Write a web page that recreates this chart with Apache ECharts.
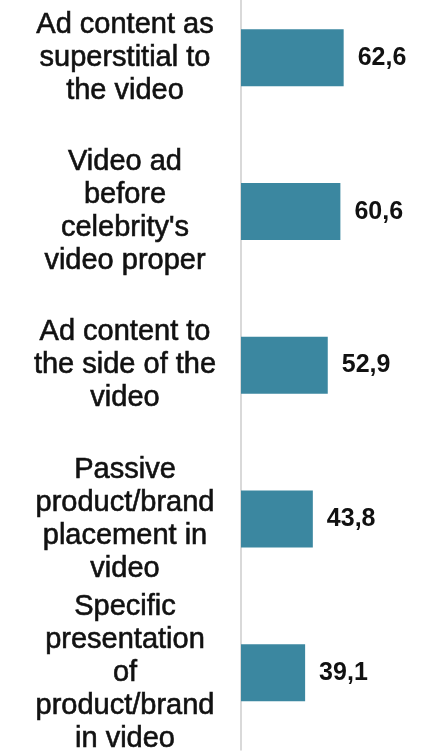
<!DOCTYPE html>
<html>
<head>
<meta charset="utf-8">
<script src="https://cdn.jsdelivr.net/npm/echarts@6/dist/echarts.min.js"></script>
<style>
  html, body { margin: 0; padding: 0; background: #fff; overflow: hidden; }
  #wrap { position: relative; width: 425px; height: 755px; overflow: hidden; }
  /* the plot runs slightly past the top edge, so the canvas starts above it */
  #chart { position: absolute; left: 0; top: -19px; width: 425px; height: 774px; }
</style>
</head>
<body>
<div id="wrap"><div id="chart"></div></div>
<script>
// Ad formats, listed top to bottom
const categories = [
  'Ad content as\nsuperstitial to\nthe video',
  'Video ad\nbefore\ncelebrity\'s\nvideo proper',
  'Ad content to\nthe side of the\nvideo',
  'Passive\nproduct/brand\nplacement in\nvideo',
  'Specific\npresentation\nof\nproduct/brand\nin video'
];
// Share of respondents (%)
const values = [62.6, 60.6, 52.9, 43.8, 39.1];

const chart = echarts.init(document.getElementById('chart'), null, { renderer: 'canvas' });

chart.setOption({
  animation: false,
  backgroundColor: '#ffffff',
  grid: { left: 241, right: 20, top: 0, bottom: 2, containLabel: false },
  xAxis: {
    type: 'value',
    min: 0,
    max: 100,
    show: false,
    splitLine: { show: false }
  },
  yAxis: {
    type: 'category',
    data: categories,
    inverse: true,
    axisLine: { show: true, lineStyle: { color: '#d9d9d9', width: 2 } },
    axisTick: { show: false },
    axisLabel: {
      align: 'center',
      margin: 116,
      color: '#111111',
      fontFamily: 'Liberation Sans, Arial, sans-serif',
      fontSize: 29,
      lineHeight: 33,
      textBorderColor: '#111111',
      textBorderWidth: 0.6
    }
  },
  series: [{
    type: 'bar',
    data: values,
    barWidth: 57,
    itemStyle: { color: '#3b87a0' },
    label: {
      show: true,
      position: 'right',
      distance: 14,
      formatter: p => p.value.toFixed(1).replace('.', ','),
      color: '#111111',
      fontFamily: 'Liberation Sans, Arial, sans-serif',
      fontWeight: 'bold',
      fontSize: 25
    }
  }]
});
</script>
</body>
</html>
